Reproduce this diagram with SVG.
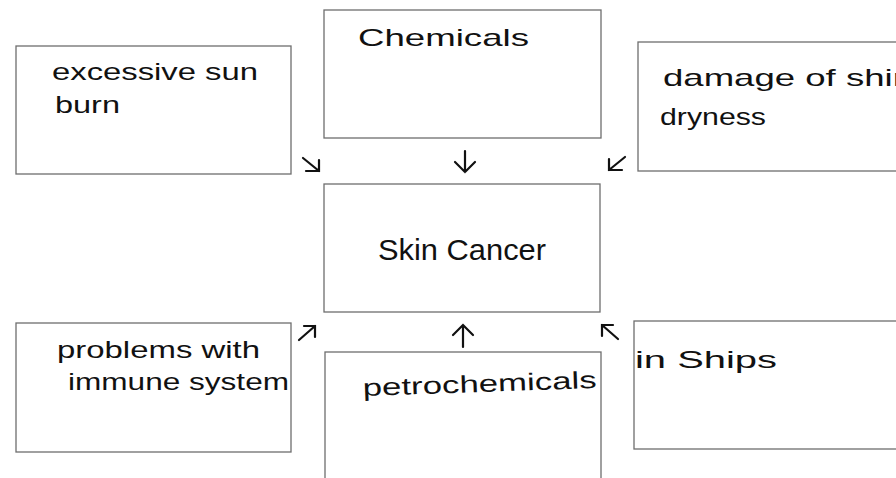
<svg xmlns="http://www.w3.org/2000/svg" width="896" height="478" viewBox="0 0 896 478">
<style>
.box{fill:#fff;stroke:#6e6e6e;stroke-width:1.3}
.hand{font-family:"Liberation Sans","DejaVu Sans",sans-serif;font-size:24px;fill:#111;font-weight:normal}
.print{font-family:"Liberation Sans",Arial,sans-serif;font-size:29px;fill:#111}
.arr{fill:none;stroke:#111;stroke-width:2.2;stroke-linecap:round;stroke-linejoin:miter}
</style>
<rect width="896" height="478" fill="#fff"/>
<g id="node-sunburn">
<rect class="box" x="16" y="46" width="275" height="128"/>
<text class="hand" x="52" y="80" textLength="206" lengthAdjust="spacingAndGlyphs">excessive sun</text>
<text class="hand" x="55" y="113" textLength="65" lengthAdjust="spacingAndGlyphs">burn</text>
</g>
<g id="node-chemicals">
<rect class="box" x="324" y="10" width="277" height="128"/>
<text class="hand" x="358" y="46" textLength="171" lengthAdjust="spacingAndGlyphs">Chemicals</text>
</g>
<g id="node-damage">
<rect class="box" x="638" y="42" width="270" height="129"/>
<text class="hand" x="663" y="86" textLength="250" lengthAdjust="spacingAndGlyphs">damage of shin</text>
<text class="hand" x="660" y="125" textLength="106" lengthAdjust="spacingAndGlyphs">dryness</text>
</g>
<g id="node-skincancer">
<rect class="box" x="324" y="184" width="276" height="128"/>
<text class="print" x="462" y="260" text-anchor="middle" textLength="168" lengthAdjust="spacingAndGlyphs">Skin Cancer</text>
</g>
<g id="node-immune">
<rect class="box" x="16" y="323" width="275" height="129"/>
<text class="hand" x="57" y="358" textLength="203" lengthAdjust="spacingAndGlyphs">problems with</text>
<text class="hand" x="68" y="390" textLength="221" lengthAdjust="spacingAndGlyphs">immune system</text>
</g>
<g id="node-petrochemicals">
<rect class="box" x="325" y="352" width="276" height="140"/>
<text class="hand" x="363" y="396" textLength="234" lengthAdjust="spacingAndGlyphs" transform="rotate(-2 363 396)">petrochemicals</text>
</g>
<g id="node-ships">
<rect class="box" x="634" y="321" width="270" height="128"/>
<text class="hand" x="635" y="368" textLength="142" lengthAdjust="spacingAndGlyphs">in Ships</text>
</g>
<g id="connectors">
<path class="arr" d="M303,158 L319,171 M319,160 L319,171 L306,171"/>
<path class="arr" d="M465,151 L465,172 M455,162 L465,172 L475,162"/>
<path class="arr" d="M625,157 L609,170 M609,159 L609,170 L622,170"/>
<path class="arr" d="M299,340 L315,326 M304,326 L315,326 L315,337"/>
<path class="arr" d="M463,347 L463,325 M453,335 L463,325 L473,335"/>
<path class="arr" d="M618,339 L602,325 M602,336 L602,325 L613,325"/>
</g>
</svg>
